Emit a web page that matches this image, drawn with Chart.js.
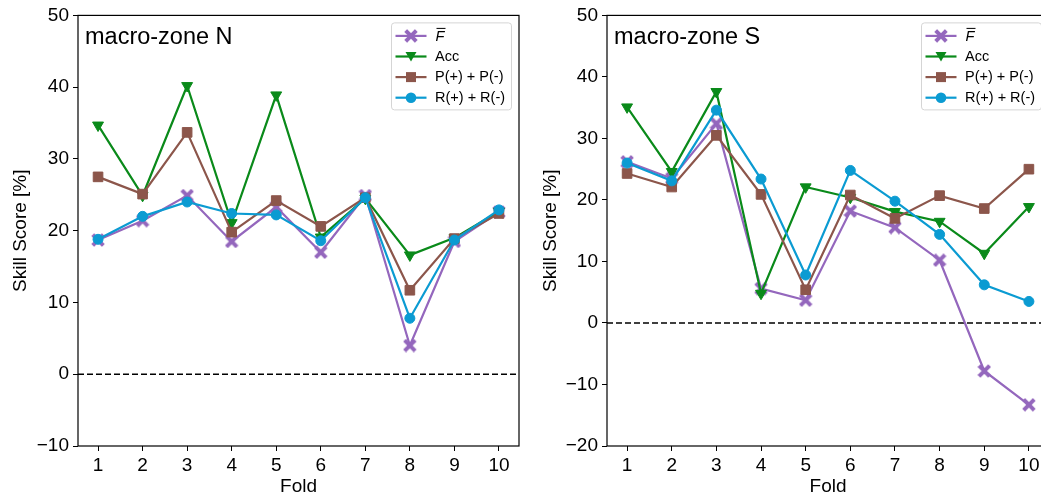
<!DOCTYPE html>
<html>
<head>
<meta charset="utf-8">
<script src="https://cdn.jsdelivr.net/npm/chart.js@4.4.1/dist/chart.umd.min.js"></script>
<style>
html, body { margin: 0; padding: 0; background: #fff; overflow: hidden; width: 1041px; height: 498px; }
.panel { position: absolute; top: 0; }
</style>
</head>
<body>
<div class="panel" style="left:0"><canvas id="zoneN" width="530" height="498"></canvas></div>
<div class="panel" style="left:530px"><canvas id="zoneS" width="530" height="498"></canvas></div>
<script>
var folds = [1, 2, 3, 4, 5, 6, 7, 8, 9, 10];

// macro-zone N
var fbarN = [18.7, 21.4, 24.9, 18.5, 23.3, 17.0, 24.9, 4.0, 18.5, 22.6];
var accN  = [34.7, 24.9, 40.2, 21.1, 38.9, 19.1, 24.5, 16.6, 19.0, 22.7];
var precN = [27.5, 25.1, 33.7, 19.8, 24.2, 20.6, 24.6, 11.7, 18.9, 22.4];
var recN  = [18.8, 22.0, 24.0, 22.4, 22.2, 18.6, 24.6, 7.8, 18.7, 22.9];

// macro-zone S
var fbarS = [26.2, 23.5, 32.4, 5.6, 3.7, 18.2, 15.5, 10.2, -7.8, -13.3];
var accS  = [35.1, 24.6, 37.6, 4.8, 22.1, 20.4, 18.1, 16.5, 11.3, 18.9];
var precS = [24.3, 22.1, 30.5, 20.9, 5.4, 20.8, 17.0, 20.7, 18.6, 25.0];
var recS  = [26.0, 23.1, 34.6, 23.4, 7.8, 24.8, 19.8, 14.4, 6.2, 3.5];

var yTicksN = [-10, 0, 10, 20, 30, 40, 50];
var yTicksS = [-20, -10, 0, 10, 20, 30, 40, 50];

var FONT = '"Liberation Sans", Arial, Helvetica, sans-serif';
Chart.defaults.font.family = FONT;
Chart.defaults.font.size = 19;
Chart.defaults.color = '#000';

var PURPLE = '#9467bd', GREEN = '#0a8a1a', BROWN = '#8c564b', BLUE = '#0b9bd2';

// filled "X" marker
function xMarker(color) {
  var c = document.createElement('canvas');
  c.width = c.height = 14;
  var g = c.getContext('2d');
  g.translate(7, 7);
  g.rotate(Math.PI / 4);
  g.fillStyle = color;
  g.fillRect(-7.5, -2, 15, 4);
  g.fillRect(-2, -7.5, 4, 15);
  return c;
}
var xImg = xMarker(PURPLE);

function pts(vals) {
  return folds.map(function (f, i) { return { x: f, y: vals[i] }; });
}

function series(label, vals, color, style, radius, order) {
  return {
    label: label,
    data: pts(vals),
    borderColor: color,
    backgroundColor: color,
    borderWidth: 2.2,
    pointStyle: style,
    pointRadius: radius,
    pointRotation: style === 'triangle' ? 180 : 0,
    pointBorderWidth: 1,
    pointBorderColor: color,
    pointBackgroundColor: color,
    tension: 0,
    order: order
  };
}

function drawMarker(ctx, ds, x, y) {
  ctx.fillStyle = ds.backgroundColor;
  if (ds.pointStyle === 'circle') {
    ctx.beginPath(); ctx.arc(x, y, 5.3, 0, Math.PI * 2); ctx.fill();
  } else if (ds.pointStyle === 'rect') {
    ctx.fillRect(x - 5, y - 5, 10, 10);
  } else if (ds.pointStyle === 'triangle') {
    ctx.beginPath(); ctx.moveTo(x - 5.5, y - 4.5); ctx.lineTo(x + 5.5, y - 4.5); ctx.lineTo(x, y + 5); ctx.closePath(); ctx.fill();
  } else {
    ctx.drawImage(ds.pointStyle, x - 7, y - 7);
  }
}

var zeroLine = {
  id: 'zeroLine',
  beforeDatasetsDraw: function (chart) {
    var ctx = chart.ctx, a = chart.chartArea;
    var y = chart.scales.y.getPixelForValue(0);
    ctx.save();
    ctx.strokeStyle = '#000';
    ctx.lineWidth = 1.5;
    ctx.setLineDash([6, 3]);
    ctx.beginPath(); ctx.moveTo(a.left, y); ctx.lineTo(a.right, y); ctx.stroke();
    ctx.restore();
  }
};

var boxLegend = {
  id: 'boxLegend',
  afterDatasetsDraw: function (chart) {
    var ctx = chart.ctx, a = chart.chartArea;
    var bx = a.right - 127.5, by = a.top + 7.5, bw = 120, bh = 87;
    ctx.save();
    ctx.beginPath();
    if (ctx.roundRect) ctx.roundRect(bx, by, bw, bh, 3); else ctx.rect(bx, by, bw, bh);
    ctx.fillStyle = 'rgba(255,255,255,0.8)';
    ctx.fill();
    ctx.strokeStyle = '#d5d5d5';
    ctx.lineWidth = 1;
    ctx.stroke();
    chart.data.datasets.forEach(function (ds, i) {
      var y = by + 13 + i * 20.6;
      ctx.strokeStyle = ds.borderColor;
      ctx.lineWidth = 2.2;
      ctx.beginPath(); ctx.moveTo(bx + 4, y); ctx.lineTo(bx + 35, y); ctx.stroke();
      drawMarker(ctx, ds, bx + 19.5, y);
      ctx.fillStyle = '#000';
      ctx.textBaseline = 'middle';
      ctx.textAlign = 'left';
      if (ds.overline) {
        ctx.font = 'italic 14.5px ' + FONT;
        ctx.fillText(ds.label, bx + 44, y + 1);
        ctx.strokeStyle = '#000';
        ctx.lineWidth = 1;
        ctx.beginPath(); ctx.moveTo(bx + 45, y - 7.5); ctx.lineTo(bx + 54, y - 7.5); ctx.stroke();
      } else {
        ctx.font = '14.5px ' + FONT;
        ctx.fillText(ds.label, bx + 43.5, y);
      }
    });
    ctx.restore();
  }
};

var frameAndTitle = {
  id: 'frameAndTitle',
  afterDraw: function (chart) {
    var ctx = chart.ctx, a = chart.chartArea;
    ctx.save();
    ctx.strokeStyle = '#000';
    ctx.lineWidth = 1.2;
    ctx.strokeRect(a.left, a.top, a.right - a.left, a.bottom - a.top);
    ctx.fillStyle = '#000';
    ctx.font = '23.5px ' + FONT;
    ctx.textBaseline = 'alphabetic';
    ctx.fillText(chart.options.plugins.frameAndTitle.text, a.left + 7, a.top + 29);
    ctx.restore();
  }
};

function makeChart(id, zone, f, acc, prec, rec, yTicks, yWidth) {
  var fs = series('F', f, PURPLE, xImg, 7, 3);
  fs.overline = true;
  return new Chart(document.getElementById(id), {
    type: 'line',
    data: {
      datasets: [
        fs,
        series('Acc', acc, GREEN, 'triangle', 6.3, 2),
        series('P(+) + P(-)', prec, BROWN, 'rect', 6.8, 1),
        series('R(+) + R(-)', rec, BLUE, 'circle', 5, 0)
      ]
    },
    options: {
      responsive: false,
      animation: false,
      layout: { padding: { top: 15, right: 11, left: 0, bottom: 0 } },
      plugins: {
        legend: { display: false },
        tooltip: { enabled: false },
        frameAndTitle: { text: zone }
      },
      scales: {
        x: {
          type: 'linear',
          min: 0.55,
          max: 10.45,
          afterBuildTicks: function (s) { s.ticks = folds.map(function (v) { return { value: v }; }); },
          afterFit: function (s) { s.height = 52; },
          border: { display: false },
          grid: { drawOnChartArea: false, drawTicks: true, tickLength: 5, color: '#000', lineWidth: 1 },
          ticks: { padding: 3, font: { size: 19 } },
          title: { display: true, text: 'Fold', padding: { top: 0, bottom: 0 }, font: { size: 19 } }
        },
        y: {
          min: yTicks[0],
          max: yTicks[yTicks.length - 1],
          afterBuildTicks: function (s) { s.ticks = yTicks.map(function (v) { return { value: v }; }); },
          afterFit: function (s) { s.width = yWidth; },
          border: { display: false },
          grid: { drawOnChartArea: false, drawTicks: true, tickLength: 5, color: '#000', lineWidth: 1 },
          ticks: {
            padding: 4,
            font: { size: 19 },
            callback: function (v) { return String(v).replace('-', '\u2212'); }
          },
          title: { display: true, text: 'Skill Score [%]', padding: { top: 9, bottom: 0 }, font: { size: 19 } }
        }
      }
    },
    plugins: [zeroLine, boxLegend, frameAndTitle]
  });
}

makeChart('zoneN', 'macro-zone N', fbarN, accN, precN, recN, yTicksN, 78);
makeChart('zoneS', 'macro-zone S', fbarS, accS, precS, recS, yTicksS, 77);
</script>
</body>
</html>
